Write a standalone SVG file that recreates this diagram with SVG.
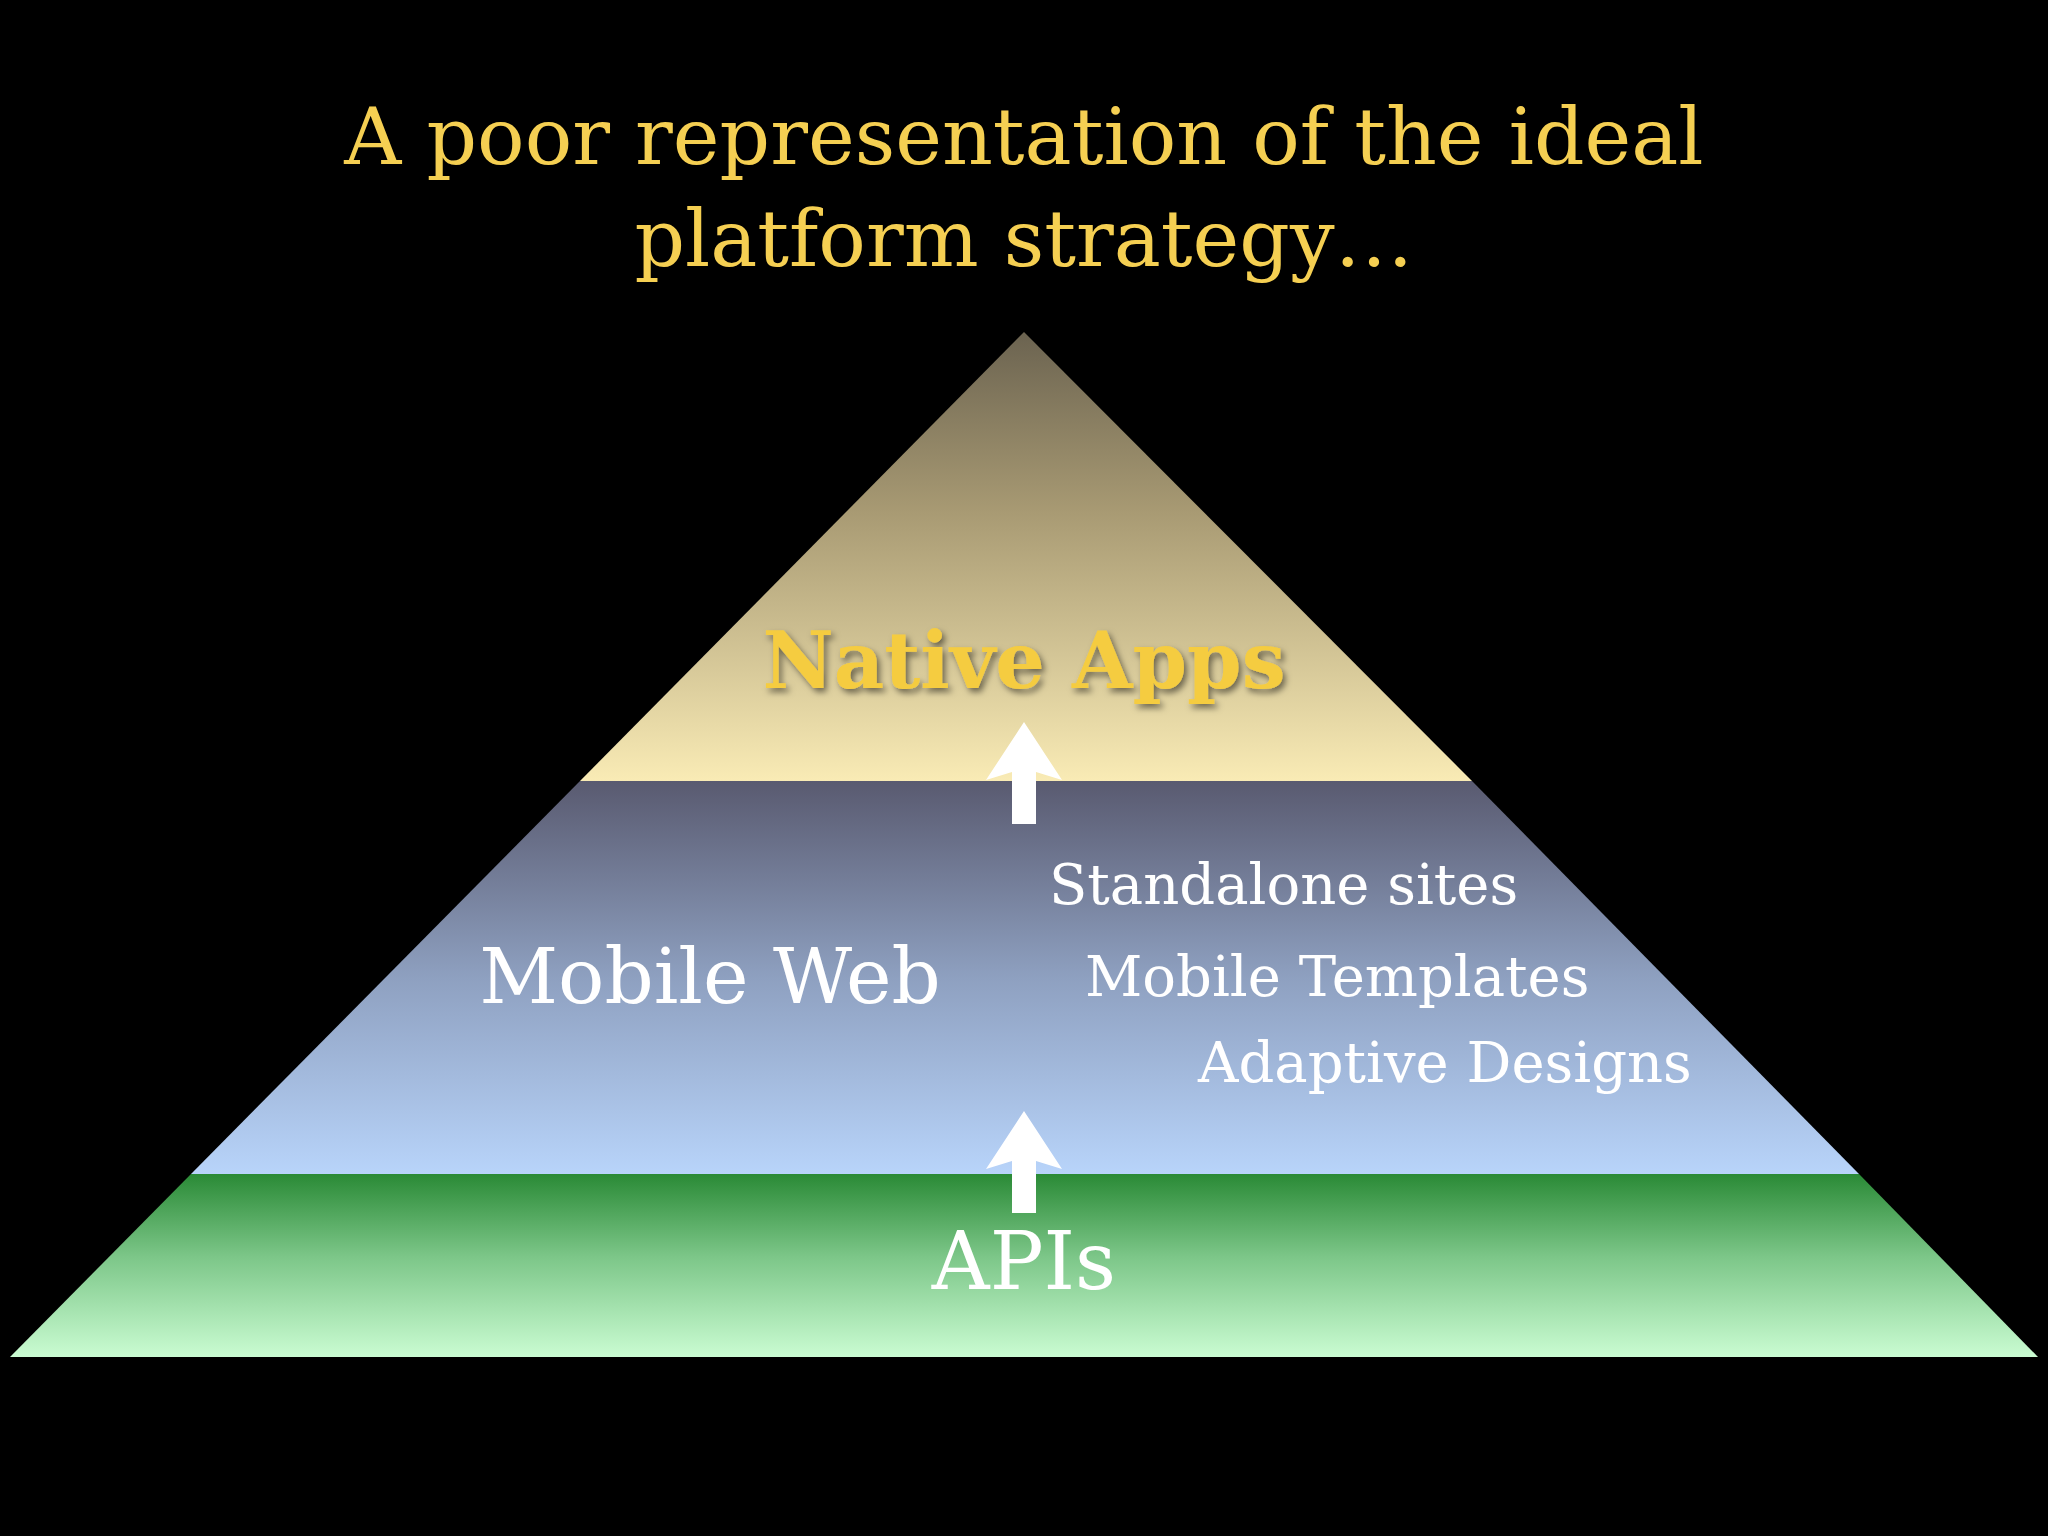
<svg xmlns="http://www.w3.org/2000/svg" width="2048" height="1536" viewBox="0 0 2048 1536">
<defs>
<linearGradient id="gTop" x1="0" y1="0" x2="0" y2="1"><stop offset="0" stop-color="#6b6350"/><stop offset="0.4" stop-color="#a89a73"/><stop offset="1" stop-color="#f9ebb5"/></linearGradient>
<linearGradient id="gMid" x1="0" y1="0" x2="0" y2="1"><stop offset="0" stop-color="#595a70"/><stop offset="0.5" stop-color="#8ea0c0"/><stop offset="1" stop-color="#b8d4fa"/></linearGradient>
<linearGradient id="gBot" x1="0" y1="0" x2="0" y2="1"><stop offset="0" stop-color="#2a8a36"/><stop offset="0.45" stop-color="#7cc688"/><stop offset="1" stop-color="#cafcd2"/></linearGradient>
<filter id="sh" x="-10%" y="-30%" width="120%" height="160%"><feDropShadow dx="3" dy="4" stdDeviation="3" flood-color="#000" flood-opacity="0.5"/></filter>
<path id="arrow" d="M0,0 L38,58 L12,50 L12,102 L-12,102 L-12,50 L-38,58 Z" fill="#fff"/>
</defs>
<style>
.t{font-family:"DejaVu Serif","Liberation Serif",serif;}
.w{fill:#fff;}
</style>
<rect width="2048" height="1536" fill="#000"/>
<g id="title" class="t" fill="#f5cf52" font-size="79" text-anchor="middle">
<text x="1024" y="164">A poor representation of the ideal</text>
<text x="1024" y="266">platform strategy…</text>
</g>
<g id="native">
<polygon points="1024,332 1472,781 580,781" fill="url(#gTop)"/>
<text class="t" x="1024" y="688" font-size="78" font-weight="bold" fill="#f5cc40" text-anchor="middle" filter="url(#sh)">Native Apps</text>
</g>
<g id="mobileweb">
<polygon points="580,781 1472,781 1859,1174 191,1174" fill="url(#gMid)"/>
<text class="t w" x="710" y="1003" font-size="77" text-anchor="middle">Mobile Web</text>
<text class="t w" x="1049" y="904" font-size="56">Standalone sites</text>
<text class="t w" x="1085" y="996" font-size="56">Mobile Templates</text>
<text class="t w" x="1198" y="1082" font-size="56">Adaptive Designs</text>
</g>
<g id="apis">
<polygon points="191,1174 1859,1174 2038,1357 10,1357" fill="url(#gBot)"/>
<text class="t w" x="1024" y="1289" font-size="80" text-anchor="middle">APIs</text>
</g>
<g id="connectors">
<use href="#arrow" x="1024" y="722"/>
<use href="#arrow" x="1024" y="1111"/>
</g>
</svg>
